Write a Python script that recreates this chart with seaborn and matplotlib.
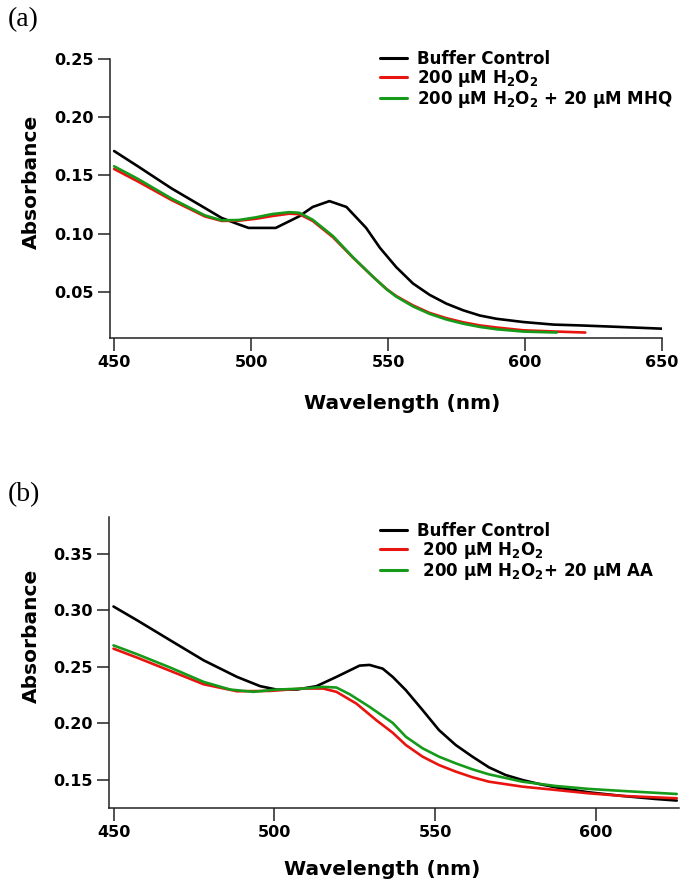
import matplotlib
matplotlib.use('Agg')
import matplotlib.pyplot as plt
import pandas as pd
import seaborn as sns

# ---- panel (a): MHQ ----
wl_a_buffer = [450, 458.6, 470.9, 483.2, 489.3, 495.5, 499.1, 509, 517.6, 522.5, 528.6, 534.8,
               542, 547, 553, 559.1, 565.2, 571.3, 577.4, 583.5, 589.6, 599.4, 610.4, 620.1, 632.3, 650]
abs_a_buffer = [0.171, 0.158, 0.139, 0.122, 0.1135, 0.108, 0.105, 0.105, 0.115, 0.123, 0.128, 0.123,
                0.105, 0.088, 0.0713, 0.0573, 0.0475, 0.040, 0.0343, 0.0298, 0.027, 0.0242, 0.022, 0.0213, 0.0202, 0.0185]

wl_a_h2o2 = [450, 458.6, 470.9, 483.2, 489.3, 495.5, 501.6, 507.7, 513.9, 517.6, 522.5, 529.9,
             537.2, 544.6, 549.5, 553, 559.1, 565.2, 571.3, 577.4, 583.5, 589.6, 599.4, 611.6, 622]
abs_a_h2o2 = [0.1556, 0.145, 0.129, 0.1148, 0.111, 0.1112, 0.1128, 0.1152, 0.1172, 0.1168, 0.111, 0.097,
              0.0795, 0.0628, 0.0525, 0.0465, 0.0385, 0.032, 0.0275, 0.024, 0.0213, 0.0195, 0.0171, 0.016, 0.0152]

wl_a_mhq = [450, 458.6, 470.9, 483.2, 489.3, 495.5, 501.6, 507.7, 513.9, 517.6, 522.5, 529.9,
            537.2, 544.6, 549.5, 553, 559.1, 565.2, 571.3, 577.4, 583.5, 589.6, 599.4, 611.6]
abs_a_mhq = [0.1579, 0.1472, 0.1303, 0.1157, 0.1115, 0.1118, 0.114, 0.1169, 0.1185, 0.118, 0.112, 0.098,
             0.0798, 0.0629, 0.0522, 0.046, 0.0376, 0.0312, 0.0264, 0.0228, 0.020, 0.018, 0.016, 0.0152]

# ---- panel (b): AA ----
wl_b_buffer = [450, 457.4, 467.7, 478, 488.4, 495.6, 500.7, 506.9, 513.1, 519.3, 526.5, 529.6, 533.7,
               536.8, 540.9, 546.1, 551.2, 556.4, 561.6, 566.7, 571.9, 577.1, 582.2, 587.4, 597.7, 608.1, 618.4, 625.1]
abs_b_buffer = [0.3035, 0.2912, 0.2735, 0.2559, 0.2412, 0.233, 0.230, 0.230, 0.233, 0.2412, 0.2512, 0.2518, 0.2485,
                0.2412, 0.2294, 0.2118, 0.1941, 0.1809, 0.1706, 0.1612, 0.1544, 0.150, 0.1465, 0.1435, 0.1391, 0.1359, 0.1332, 0.1318]

wl_b_h2o2 = [450, 457.4, 467.7, 478, 488.4, 498.7, 509, 515.2, 519.3, 525.5, 531.7, 536.8,
             540.9, 546.1, 551.2, 556.4, 561.6, 566.7, 577.1, 587.4, 597.7, 608.1, 625.1]
abs_b_h2o2 = [0.2662, 0.2582, 0.2465, 0.2347, 0.2285, 0.2288, 0.2309, 0.2309, 0.228, 0.2176, 0.2029, 0.1918,
              0.1809, 0.1706, 0.1632, 0.1574, 0.1524, 0.1485, 0.1441, 0.1412, 0.1382, 0.1359, 0.1338]

wl_b_aa = [450, 457.4, 467.7, 478, 486.3, 493.5, 500.7, 509, 515.2, 519.3, 523.4, 529.6, 536.8,
           540.9, 546.1, 551.2, 556.4, 561.6, 566.7, 577.1, 587.4, 597.7, 608.1, 625.1]
abs_b_aa = [0.2691, 0.2612, 0.2494, 0.2368, 0.230, 0.228, 0.230, 0.2309, 0.2324, 0.2318, 0.2259, 0.2147, 0.2005,
            0.1882, 0.178, 0.1706, 0.1647, 0.1594, 0.155, 0.1485, 0.1447, 0.1421, 0.1403, 0.1376]

labels_a = ['Buffer Control', '200 µM H$_2$O$_2$', '200 µM H$_2$O$_2$ + 20 µM MHQ']
labels_b = ['Buffer Control', ' 200 µM H$_2$O$_2$', ' 200 µM H$_2$O$_2$+ 20 µM AA']
colors = ['#000000', '#e8140f', '#169a1a']

sns.set_theme(style='ticks')
plt.rcParams['font.family'] = ['DejaVu Sans']
plt.rcParams['font.weight'] = 'bold'
plt.rcParams['mathtext.default'] = 'bf'
plt.rcParams['text.color'] = 'black'
plt.rcParams['axes.labelcolor'] = 'black'
plt.rcParams['xtick.color'] = 'black'
plt.rcParams['ytick.color'] = 'black'


def make_df(series, labels):
    frames = []
    for (wl, ab), lab in zip(series, labels):
        frames.append(pd.DataFrame({'wl': wl, 'abs': ab, 'sample': lab}))
    return pd.concat(frames, ignore_index=True)


df_a = make_df([(wl_a_buffer, abs_a_buffer), (wl_a_h2o2, abs_a_h2o2), (wl_a_mhq, abs_a_mhq)], labels_a)
df_b = make_df([(wl_b_buffer, abs_b_buffer), (wl_b_h2o2, abs_b_h2o2), (wl_b_aa, abs_b_aa)], labels_b)

fig = plt.figure(figsize=(6.86, 8.84), dpi=100)
ax_a = fig.add_axes([110 / 686, 1 - 338 / 884, 552 / 686, 279 / 884])
ax_b = fig.add_axes([109 / 686, 1 - 808 / 884, 570 / 686, 291 / 884])


def style_panel(ax, df, labels, xlim, ylim, xticks, yticks, leg_xy, ylab_x, ylab_y):
    sns.lineplot(data=df, x='wl', y='abs', hue='sample', hue_order=labels,
                 palette=colors, sort=False, estimator=None, lw=1.9, ax=ax)
    ax.set_xlim(*xlim)
    ax.set_ylim(*ylim)
    ax.set_xticks(xticks)
    ax.set_yticks(yticks)
    ax.set_xticklabels([str(t) for t in xticks])
    ax.set_yticklabels(['%.2f' % t for t in yticks])
    sns.despine(ax=ax)
    for s in ['left', 'bottom']:
        ax.spines[s].set_linewidth(1.1)
        ax.spines[s].set_color('#222222')
    ax.tick_params(axis='both', length=9, width=1.1, color='#222222', labelsize=11.5, pad=3)
    ax.set_xlabel('Wavelength (nm)', fontsize=14.5, fontweight='bold')
    ax.set_ylabel('Absorbance', fontsize=14.5, fontweight='bold')
    ax.yaxis.set_label_coords(ylab_x, ylab_y)
    leg = ax.legend(loc='upper left', bbox_to_anchor=leg_xy, bbox_transform=fig.transFigure,
                    frameon=False, fontsize=12, handlelength=1.6, handletextpad=0.6,
                    labelspacing=0.0, borderpad=0, borderaxespad=0)
    for line in leg.get_lines():
        line.set_linewidth(2.2)


style_panel(ax_a, df_a, labels_a, (448.5, 650), (0.0105, 0.25),
            [450, 500, 550, 600, 650], [0.05, 0.10, 0.15, 0.20, 0.25],
            (380 / 686, 1 - 50 / 884), -0.125, 0.56)
ax_a.xaxis.set_label_coords(0.53, -0.2)

style_panel(ax_b, df_b, labels_b, (448.6, 625.8), (0.1252, 0.3827),
            [450, 500, 550, 600], [0.15, 0.20, 0.25, 0.30, 0.35],
            (380 / 686, 1 - 522 / 884), -0.119, 0.59)
ax_b.xaxis.set_label_coords(0.48, -0.18)

fig.text(8 / 686, 1 - 20 / 884, '(a)', family='Liberation Serif', fontweight='normal',
         fontsize=20, va='center', ha='left')
fig.text(8 / 686, 1 - 495 / 884, '(b)', family='Liberation Serif', fontweight='normal',
         fontsize=20, va='center', ha='left')

fig.savefig('out.png', dpi=100)
